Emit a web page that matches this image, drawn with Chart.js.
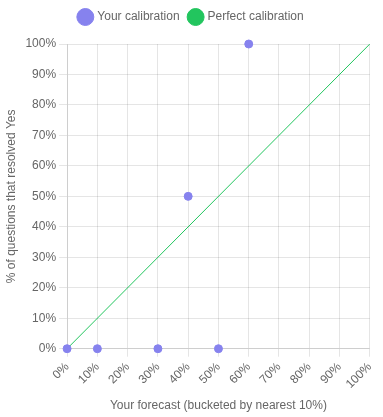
<!DOCTYPE html>
<html><head><meta charset="utf-8">
<script src="https://cdn.jsdelivr.net/npm/chart.js@4"></script>
<style>html,body{margin:0;padding:0;background:#fff}#wrap{width:383px;height:417px}</style>
</head><body><div id="wrap"><canvas id="c"></canvas></div>
<script>
const forecastBuckets = [0, 10, 30, 40, 50, 60];
const resolvedYes = [0, 0, 0, 50, 0, 100];
const perfectX = [0, 100];
const perfectY = [0, 100];
const seriesNames = ["Your calibration", "Perfect calibration"];
const xTitle = "Your forecast (bucketed by nearest 10%)";
const yTitle = "% of questions that resolved Yes";

const purple = "#8682ee";
const green = "#22c55e";
Chart.defaults.font.family = "'Liberation Sans', Arial, Helvetica, sans-serif";
Chart.defaults.color = "#666";

const legendMargin = {
  id: "legendMargin",
  beforeInit(chart) {
    const orig = chart.legend.fit;
    chart.legend.fit = function () {
      orig.bind(chart.legend)();
      this.height += 11;
    };
  }
};

new Chart(document.getElementById("c"), {
  type: "scatter",
  plugins: [legendMargin],
  data: {
    datasets: [
      {
        label: seriesNames[0],
        data: forecastBuckets.map((x, i) => ({x, y: resolvedYes[i]})),
        backgroundColor: purple,
        borderColor: purple,
        pointRadius: 4,
        pointHoverRadius: 5,
        clip: false
      },
      {
        label: seriesNames[1],
        type: "line",
        data: perfectX.map((x, i) => ({x, y: perfectY[i]})),
        borderColor: green,
        backgroundColor: green,
        borderWidth: 1,
        pointRadius: 0,
        fill: false
      }
    ]
  },
  options: {
    responsive: true,
    maintainAspectRatio: false,
    animation: false,
    layout: { padding: { top: 1 } },
    plugins: {
      legend: {
        labels: { usePointStyle: true, font: { size: 12 } }
      },
      tooltip: { enabled: false }
    },
    scales: {
      x: {
        type: "linear",
        min: 0, max: 100,
        ticks: { stepSize: 10, callback: v => v + "%", maxRotation: 45, minRotation: 45 },
        title: { display: true, text: xTitle, font: { size: 12 } }
      },
      y: {
        min: 0, max: 100,
        ticks: { stepSize: 10, callback: v => v + "%" },
        title: { display: true, text: yTitle, font: { size: 12 } }
      }
    }
  }
});
</script></body></html>
